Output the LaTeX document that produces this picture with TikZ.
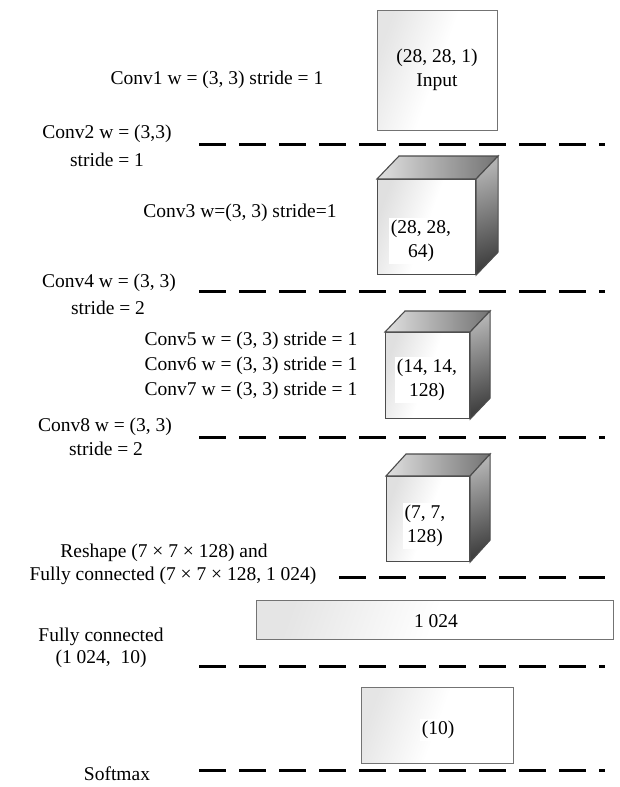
\documentclass[tikz,border=0pt]{standalone}
\usepackage{fontspec}
\setmainfont{Liberation Serif}
\usetikzlibrary{calc}

% A 3-D block: front face node plus shaded top and side faces.
% #1 name, #2 left x, #3 top y, #4 width, #5 height, #6 depth dx, #7 depth dy (upwards)
\newcommand\cubeblock[7]{%
  \node[frontface, minimum width=#4pt, minimum height=#5pt, anchor=north west] (#1) at (#2,#3) {};
  \path[topface] (#1.north west) -- ++(#6,-#7) -- ([shift={(#6,-#7)}]#1.north east)
    -- (#1.north east) -- cycle;
  \path[sideface] (#1.north east) -- ++(#6,-#7) -- ([shift={(#6,-#7)}]#1.south east)
    -- (#1.south east) -- cycle;
}

\begin{document}
\begin{tikzpicture}[x=1pt,y=-1pt,
  lbl/.style={font=\fontsize{19.5}{23.5}\selectfont, align=center, inner sep=0pt},
  inlbl/.style={lbl, fill=white, inner sep=2pt},
  sep/.style={line width=3pt, dash pattern=on 27pt off 13pt},
  flatbox/.style={draw=black!55, line width=1pt, left color=black!10, right color=white,
    middle color=white, shading angle=70, inner sep=0pt},
  frontface/.style={draw=black!70, line width=1.1pt, left color=black!12, right color=white,
    middle color=white, shading angle=70, inner sep=0pt},
  topface/.style={draw=black!70, line width=1.1pt, left color=black!12, middle color=black!35,
    right color=black!55},
  sideface/.style={draw=black!70, line width=1.1pt, top color=black!30, bottom color=black!75,
    shading angle=20},
]
\useasboundingbox (0,0) rectangle (619,787);

% ---- blocks ----
\node[flatbox, minimum width=120pt, minimum height=120pt, anchor=north west] (inp) at (377,10) {};
\node[inlbl, fill=none] (inptxt) at (437,70) {(28, 28, 1)\\Input};

\cubeblock{c1}{377}{179}{98}{95}{22}{23}
\node[inlbl] (c1txt) at (421,241) {(28, 28,\\64)};

\cubeblock{c2}{385}{332}{84}{86}{20}{21}
\node[inlbl] (c2txt) at (427,380) {(14, 14,\\128)};

\cubeblock{c3}{386}{476}{83}{85}{20}{22}
\node[inlbl] (c3txt) at (425,526) {(7, 7,\\128)};

\node[flatbox, minimum width=357pt, minimum height=39pt, anchor=north west] (fc) at (256,600) {};
\node[lbl] (fctxt) at (436,621) {1 024};

\node[flatbox, minimum width=152pt, minimum height=76pt, anchor=north west] (out) at (361,687) {};
\node[inlbl] (outtxt) at (438,730) {(10)};

% ---- layer separators ----
\coordinate (s1a) at (199,144); \coordinate (s1b) at (605,144);
\coordinate (s2a) at (199,291); \coordinate (s2b) at (605,291);
\coordinate (s3a) at (199,437); \coordinate (s3b) at (605,437);
\coordinate (s4a) at (339,577); \coordinate (s4b) at (605,577);
\coordinate (s5a) at (199,666); \coordinate (s5b) at (605,666);
\coordinate (s6a) at (199,770); \coordinate (s6b) at (605,770);
\foreach \s in {1,...,6} \draw[sep] (s\s a) -- (s\s b);

% ---- layer labels ----
\node[lbl] (l1) at (217,80) {Conv1 w = (3, 3) stride = 1};
\node[lbl] (l2) at (107,134) {Conv2 w = (3,3)};
\node[lbl] (l2b) at (107,160) {stride = 1};
\node[lbl] (l3) at (240,213) {Conv3 w=(3, 3) stride=1};
\node[lbl] (l4) at (109,283) {Conv4 w = (3, 3)};
\node[lbl] (l4b) at (108,308) {stride = 2};
\node[lbl] (l5) at (251,341) {Conv5 w = (3, 3) stride = 1};
\node[lbl] (l6) at (251,366) {Conv6 w = (3, 3) stride = 1};
\node[lbl] (l7) at (251,391) {Conv7 w = (3, 3) stride = 1};
\node[lbl] (l8) at (105,427) {Conv8 w = (3, 3)};
\node[lbl] (l8b) at (106,449) {stride = 2};
\node[lbl] (l9) at (164,553) {Reshape (7 × 7 × 128) and};
\node[lbl] (l9b) at (173,576) {Fully connected (7 × 7 × 128, 1 024)};
\node[lbl] (l10) at (101,637) {Fully connected};
\node[lbl] (l10b) at (101,659) {(1 024,\ \ 10)};
\node[lbl] (l11) at (117,774) {Softmax};
\end{tikzpicture}
\end{document}
